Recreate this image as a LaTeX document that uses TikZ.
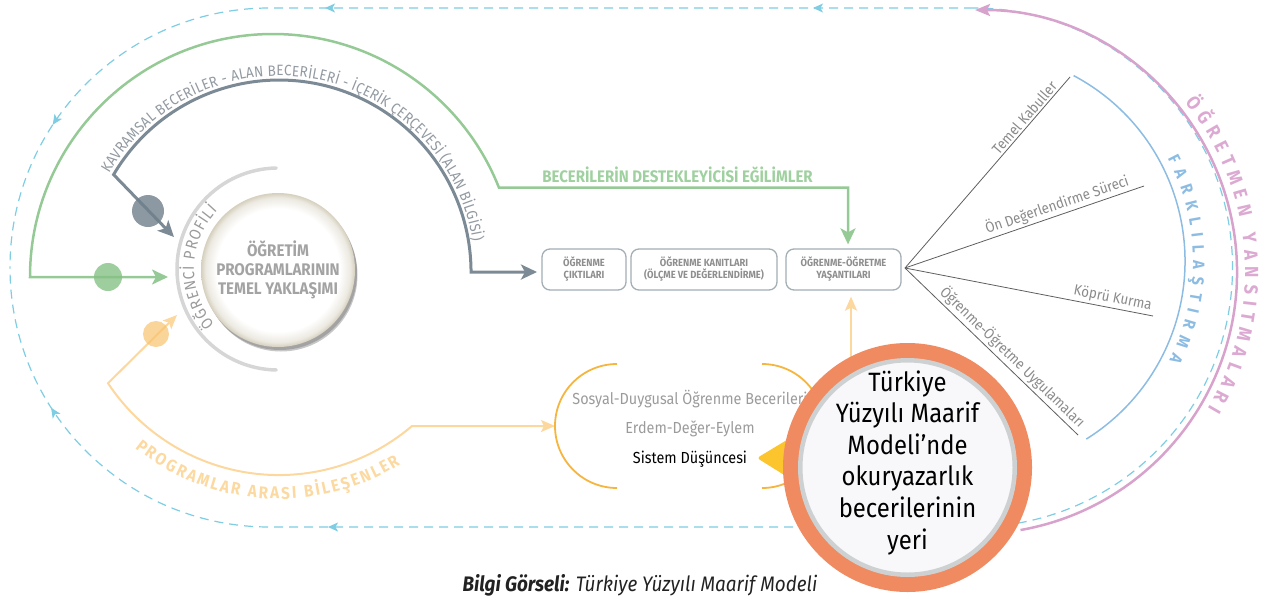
\documentclass[tikz,border=0pt]{standalone}
\usepackage{fontspec}
\setmainfont{Fira Sans}[FakeStretch=0.9]
\usetikzlibrary{arrows.meta,decorations.text,decorations.markings}

\definecolor{dashblue}{HTML}{7ECDE3}
\definecolor{slateline}{HTML}{7B8A95}
\definecolor{slatedot}{HTML}{6F808C}
\definecolor{greenline}{HTML}{95C995}
\definecolor{greendot}{HTML}{86C186}
\definecolor{greentext}{HTML}{9FD09F}
\definecolor{sandline}{HTML}{FCD79E}
\definecolor{sanddot}{HTML}{F7C36F}
\definecolor{sandtext}{HTML}{FCD9A0}
\definecolor{pinkline}{HTML}{D7A2CC}
\definecolor{pinktext}{HTML}{DBA9D1}
\definecolor{blueline}{HTML}{8DBCE3}
\definecolor{profgray}{HTML}{D6D6D6}
\definecolor{labelgray}{HTML}{9B9B9B}
\definecolor{boxborder}{HTML}{A3AEB5}
\definecolor{boxtext}{HTML}{8E8E8E}
\definecolor{bracketorange}{HTML}{F5B53F}
\definecolor{pointeryellow}{HTML}{FCC42D}
\definecolor{ringorange}{HTML}{EF8A61}
\definecolor{ringgray}{HTML}{CED1D2}
\definecolor{discfill}{HTML}{F8F8FA}
\definecolor{fanline}{HTML}{5E5E5E}
\definecolor{fantext}{HTML}{8A8A8A}
\definecolor{beigering}{HTML}{D5CFBD}
\definecolor{kavtext}{HTML}{929AA1}
\definecolor{disctext}{HTML}{A3A3A3}
\definecolor{captiontext}{HTML}{222222}

\pgfdeclareradialshading{discshade}{\pgfpoint{0bp}{0bp}}{%
  color(0bp)=(white); color(20bp)=(white); color(23.5bp)=(beigering!45);
  color(25bp)=(beigering); color(50bp)=(beigering)}

\newcommand\kavfont{\fontsize{15}{15}\selectfont}
\newcommand\proffont{\fontsize{16}{16}\selectfont}
\newcommand\progfont{\fontsize{17}{17}\selectfont\bfseries}
\newcommand\pinkfont{\fontsize{19}{19}\selectfont\bfseries}
\newcommand\farkfont{\fontsize{16.5}{16.5}\selectfont\bfseries}

\begin{document}
\begin{tikzpicture}[x=1pt,y=1pt,
  dashloop/.style={draw=dashblue, line width=1.2pt, dash pattern=on 9pt off 6pt},
  slatepath/.style={draw=slateline, line width=3pt},
  greenpath/.style={draw=greenline, line width=2.5pt},
  sandpath/.style={draw=sandline, line width=2pt},
  pinkpath/.style={draw=pinkline, line width=2.5pt},
  bluepath/.style={draw=blueline, line width=1.5pt},
  fanpath/.style={draw=fanline, line width=0.8pt},
  fanlabel/.style={sloped, above, inner sep=2pt, text=fantext, font=\fontsize{14.8}{15}\selectfont},
  stagebox/.style={draw=boxborder, line width=1.3pt, rounded corners=8pt, minimum height=41pt,
    align=center, text=boxtext, font=\fontsize{10.4}{12}\selectfont\bfseries, inner sep=0pt},
  bigtip/.tip={Stealth[length=16pt,width=15pt,inset=4pt]},
  sandtip/.tip={Stealth[length=14pt,width=12pt,inset=3pt]},
  dashtip/.tip={Stealth[length=10pt,width=9pt,inset=2.5pt]},
  arctext/.style={decorate, decoration={text along path, text align={fit to path}}},
]
\useasboundingbox (0,0) rectangle (1265,-597);

% ---------- outer dashed feedback loop
\coordinate (dtr) at (973,-8);
\coordinate (dtl) at (269.5,-8);
\coordinate (dbr) at (973,-527);
\coordinate (dbl) at (269.5,-527);
\draw[dashloop, postaction={decorate}, decoration={markings,
    mark=at position 160pt with {\arrow{dashtip}},
    mark=at position 648pt with {\arrow{dashtip}},
    mark=at position 960pt with {\arrow{dashtip}}}]
  (dtr) -- (dtl) arc[start angle=90, end angle=180, radius=259.5];
\draw[dashloop, postaction={decorate}, decoration={markings,
    mark=at position 645pt with {\arrow{dashtip}},
    mark=at position 963pt with {\arrow{dashtip}}}]
  (dbr) -- (dbl) arc[start angle=270, end angle=180, radius=259.5];
\draw[dashloop] (dbr) arc[start angle=-90, end angle=90, radius=259.5];

% ---------- teacher reflections (pink)
\coordinate (pc) at (975,-272);
\draw[pinkpath, -{Stealth[length=15pt,width=12pt,inset=3pt]}]
  (pc) ++(-80:262) arc[start angle=-80, end angle=90, radius=262];
\path[arctext, decoration={text color=pinktext, text={|\pinkfont|ÖĞRETMEN YANSITMALARI}}]
  (pc) ++(39:270) arc[start angle=39, end angle=-30.5, radius=270];

% ---------- differentiation (blue)
\coordinate (bc) at (975,-261);
\draw[bluepath] (bc) ++(62:210) arc[start angle=62, end angle=-58, radius=210];
\path[arctext, decoration={text color=blueline, text={|\farkfont|FARKLILAŞTIRMA}}]
  (bc) ++(28:218) arc[start angle=28, end angle=-27, radius=218];

% ---------- fan of teaching steps
\coordinate (fo) at (905,-268);
\coordinate (f1) at (1070,-77);
\coordinate (f2) at (1144,-186);
\coordinate (f3) at (1153,-316);
\coordinate (f4) at (1078,-435);
\draw[fanpath] (fo) -- node[fanlabel, pos=0.76] {Temel Kabuller} (f1);
\draw[fanpath] (fo) -- node[fanlabel, pos=0.65] {Ön Değerlendirme Süreci} (f2);
\draw[fanpath] (fo) -- node[fanlabel, pos=0.83] {Köprü Kurma} (f3);
\draw[fanpath] (fo) -- node[fanlabel, pos=0.58] {Öğrenme-Öğretme Uygulamaları} (f4);

% ---------- stage boxes
\node[stagebox, minimum width=84pt] (b1) at (584,-269.5) {ÖĞRENME\\ÇIKTILARI};
\node[stagebox, minimum width=146pt] (b2) at (704,-269.5) {ÖĞRENME KANITLARI\\(ÖLÇME VE DEĞERLENDİRME)};
\node[stagebox, minimum width=115pt] (b3) at (843.5,-269.5) {ÖĞRENME-ÖĞRETME\\YAŞANTILARI};

% ---------- green: dispositions
\coordinate (gtip) at (168,-277);
\coordinate (gL) at (30,-277);
\coordinate (gcorner) at (848,-187.5);
\draw[greenpath, {bigtip}-{bigtip}, shorten >=4pt]
  (gtip) -- (gL) arc[start angle=180, end angle=21.6, radius=243]
  -- (gcorner) -- (gcorner |- b3.north);
\node[anchor=base, text=greentext, font=\fontsize{16.7}{17}\selectfont\bfseries] (dispo)
  at (677.5,-182) {BECERİLERİN DESTEKLEYİCİSİ EĞİLİMLER};

% ---------- slate: skills and content frame
\coordinate (sc) at (279,-272);
\coordinate (stip) at (174,-237);
\coordinate (sL) at (113.6,-174.6);
\coordinate (stipb) at (537,-272);
\draw[slatepath, {bigtip}-{bigtip}]
  (stip) -- (sL) arc[start angle=149.5, end angle=0, radius=192] -- (stipb);
\path[arctext, decoration={text color=kavtext,
    text={|\kavfont|KAVRAMSAL BECERİLER - ALAN BECERİLERİ - İÇERİK ÇERÇEVESİ (ALAN BİLGİSİ)}}]
  (sc) ++(150:196) arc[start angle=150, end angle=9, radius=196];

% ---------- sand: cross-programme components
\coordinate (oc) at (279,-270);
\coordinate (otip) at (177,-315);
\coordinate (oL) at (108,-383.2);
\coordinate (otipb) at (555,-426);
\draw[sandpath, {sandtip}-{sandtip}]
  (otip) -- (oL) arc[start angle=213.5, end angle=310.45, radius=205] -- (otipb);
\path[arctext, decoration={text color=sandtext, text={|\progfont|PROGRAMLAR ARASI BİLEŞENLER}}]
  (oc) ++(231:229) arc[start angle=231, end angle=302, radius=229];

% ---------- marker dots
\fill[slatedot, opacity=.8] (148,-211) circle (16);
\fill[greendot, opacity=.8] (108,-277) circle (14);
\fill[sanddot, opacity=.7] (156,-334) circle (13);

% ---------- student profile arc
\draw[profgray, line width=3.5pt, line cap=round]
  (278,-269) ++(91:101) arc[start angle=91, end angle=269, radius=101];
\path[arctext, decoration={text color=labelgray, text={|\proffont|ÖĞRENCİ PROFİLİ}}]
  (278,-269) ++(221:84) arc[start angle=221, end angle=136, radius=84];

% ---------- central disc
\fill[black, opacity=.18] (280,-273) circle (77);
\fill[black, opacity=.22] (281,-275) circle (76.5);
\node[circle, minimum size=154pt, inner sep=0pt, shading=discshade, align=center,
  text=disctext, font=\fontsize{16.8}{19}\selectfont\bfseries] (disc) at (278,-270)
  {ÖĞRETİM\\PROGRAMLARININ\\TEMEL YAKLAŞIMI};

% ---------- orange brackets and their contents
\draw[bracketorange, line width=1.8pt] (617,-364) arc[start angle=90, end angle=270, radius=62];
\draw[bracketorange, line width=1.8pt] (762,-364) arc[start angle=90, end angle=-90, radius=62];
\node[anchor=base, text=labelgray, font=\fontsize{16}{16}\selectfont] (se1) at (690,-404)
  {Sosyal-Duygusal Öğrenme Becerileri};
\node[anchor=base, text=labelgray, font=\fontsize{16}{16}\selectfont] (se2) at (690,-433)
  {Erdem-Değer-Eylem};
\node[anchor=base, text=black, font=\fontsize{16}{16}\selectfont] (se3) at (690,-463)
  {Sistem Düşüncesi};
\fill[pointeryellow, rounded corners=3pt] (757,-458) -- (805,-429) -- (805,-488) -- cycle;

% ---------- literacy disc
\coordinate (tc) at (907.5,-467.5);
\coordinate (oq) at (851,-360);
\draw[sandpath, -{sandtip}, shorten >=6pt] (oq) -- (oq |- b3.south);
\fill[ringorange] (tc) circle (124.5);
\node[circle, fill=discfill, draw=ringgray, line width=4.5pt, minimum size=214.5pt,
  inner sep=0pt] (tym) at (tc) {};
\node[align=center, font=\fontsize{26.5}{31.6}\selectfont, text=black] (tymtext) at (907.5,-462.5)
  {Türkiye\\Yüzyılı Maarif\\Modeli’nde\\okuryazarlık\\becerilerinin\\yeri};

% ---------- caption
\node[anchor=base, text=captiontext, font=\fontsize{21}{24}\selectfont\itshape] (caption)
  at (640,-591) {\textbf{Bilgi Görseli:} Türkiye Yüzyılı Maarif Modeli};
\end{tikzpicture}
\end{document}
